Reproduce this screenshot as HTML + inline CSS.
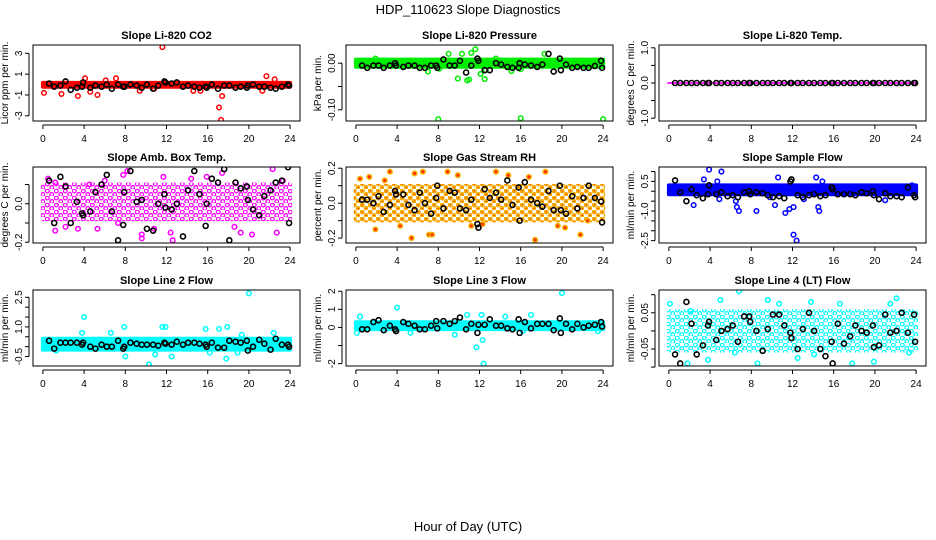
<!DOCTYPE html>
<html><head><meta charset="utf-8"><style>
html,body{margin:0;padding:0;background:#fff;}
svg{display:block;font-family:"Liberation Sans",Arial,sans-serif;}
</style></head><body>
<svg id="c" width="936" height="540" viewBox="0 0 936 540" xmlns="http://www.w3.org/2000/svg">
<defs>
<pattern id="pm" width="9" height="7" patternUnits="userSpaceOnUse"><circle cx="2.3" cy="2" r="1.9" fill="none" stroke="#ff00ff" stroke-width="1.3"/><circle cx="6.8" cy="5.5" r="1.9" fill="none" stroke="#ff00ff" stroke-width="1.3"/></pattern>
<pattern id="po" width="8" height="7" patternUnits="userSpaceOnUse"><circle cx="2.2" cy="2" r="2.1" fill="#f5c000" stroke="#f0a000" stroke-width="0.8"/><circle cx="6.2" cy="5.5" r="2.1" fill="#f5c000" stroke="#f0a000" stroke-width="0.8"/><circle cx="2.2" cy="2" r="0.7" fill="#ff2000"/><circle cx="6.2" cy="5.5" r="0.7" fill="#ff2000"/></pattern>
<pattern id="pc" width="9" height="7" patternUnits="userSpaceOnUse"><circle cx="2.3" cy="2" r="1.9" fill="none" stroke="#00ffff" stroke-width="1.3"/><circle cx="6.8" cy="5.5" r="1.9" fill="none" stroke="#00ffff" stroke-width="1.3"/></pattern>
</defs>
<text x="468" y="14" text-anchor="middle" font-size="13">HDP_110623  Slope Diagnostics</text>
<text x="468" y="531" text-anchor="middle" font-size="13">Hour of Day (UTC)</text>
</svg>
<script>
const blackHours=[0.6,1.1,1.7,2.2,2.7,3.3,3.8,3.9,4.6,5.1,5.7,6.2,6.7,7.3,7.8,7.9,8.5,9.1,9.6,10.1,10.7,11.2,11.8,11.9,12.5,13.0,13.6,14.1,14.7,15.2,15.8,15.9,16.4,17.0,17.6,18.1,18.7,19.2,19.8,19.9,20.4,21.0,21.5,22.1,22.6,23.2,23.8,23.9];
const xTicks=[0,4,8,12,16,20,24];
const titles=["Slope Li-820 CO2","Slope Li-820 Pressure","Slope Li-820 Temp.","Slope Amb. Box Temp.","Slope Gas Stream RH","Slope Sample Flow","Slope Line 2 Flow","Slope Line 3 Flow","Slope Line 4 (LT) Flow"];
const yLabels=["Licor ppm per min.","kPa per min.","degrees C per min.","degrees C per min.","percent per min.","ml/min per min.","ml/min per min.","ml/min per min.","ml/min per min."];
const yRanges=[[-3.5,3.8],[-0.124,0.039],[-1.08,1.08],[-0.204,0.191],[-0.228,0.207],[-2.62,1.23],[-0.98,2.87],[-2.13,2.07],[-0.097,0.113]];
const yTicks=[[-3,-1,1,3],[-0.1,-0.05,0],[-1,-0.5,0,0.5,1],[-0.2,-0.1,0,0.1],[-0.2,-0.1,0,0.1,0.2],[-2.5,-2,-1.5,-1,-0.5,0,0.5,1],[-0.5,0,0.5,1,1.5,2,2.5],[-2,-1,0,1,2],[-0.1,-0.05,0,0.05,0.1]];
const yTickLabels=[["-3","-1","1","3"],["-0.10","","0.00"],["-1.0","","0.0","","1.0"],["-0.2","","0.0",""],["-0.2","","0.0","","0.2"],["-2.5","","","-1.0","","","0.5",""],["-0.5","","","1.0","","","2.5"],["-2","","0","1","2"],["","-0.05","","0.05",""]];
const colors=["#ff0000","#00ee00","#ff00ff","#ff00ff","#f5b400","#0000ff","#00ffff","#00ffff","#00ffff"];
const bandLo=[-0.4,-0.012,-0.025,-0.09,-0.11,-0.25,-0.25,-0.2,-0.06];
const bandHi=[0.35,0.012,0.025,0.11,0.11,0.4,0.5,0.4,0.06];
const bandFill=["#ff0000","#00ee00","#ff00ff","url(#pm)","url(#po)","#0000ff","#00ffff","#00ffff","url(#pc)"];
const outHours=[
[0.1,1.8,3.4,4.1,5.3,7.1,9.4,11.6,17.1,17.4,17.3,21.7,21.3,2.2,4.6,6.1,14.6,15.3,10.8,22.5],
[8,16,24,9.9,10.8,11,11.6,12.5,11.2,10.3,1.9,9,13.6,18.3,7,12.1,12.6,15.1,16,8.1],
[],
[0.5,1.2,1.2,2.2,4.5,6,7.8,8.2,9.6,9.6,11.7,12.4,12.6,15.9,17.4,20.3,22.3,22.7,23.3,19.2,5.3,3.4,14.4,18.6,7.3,10.8],
[0.4,1.3,1.9,2.8,3.3,5.4,5.7,6.5,7.1,7.4,8.9,9.9,11.2,13.6,17.4,18.4,19.6,20.3,21.8,22.5,16.8,14.8,12.3,4.3],
[3.9,5.1,4.7,3.4,2.4,6.5,6.6,6.8,8.5,10.6,10.3,11.3,11.7,12.1,12.4,12.1,14.3,14.5,14.6,14.9,13.1,9.8,4.9,21,23.6],
[4,20,7.9,8,10.3,11.6,11.9,12.5,15.8,17.1,17.9,17.8,19.3,3.8,6.6,10.9,16.2,22.4,1.3,18.9],
[0.4,4,20,11.7,12.4,12.3,12.2,14.5,17,10.8,0.1,9.6,5.3,16.2,23.5],
[6.8,22.1,0.1,9.6,5,8.6,12.5,17.8,19.9,1.8,3.8,14.1,23.3,6.4,16.6,10.7,13.8,2.1,21.5]];
const outVals=[
[-0.8,-0.9,-1.1,0.6,-1.0,0.6,-0.6,3.6,-2.2,-1.1,-3.4,0.8,-0.6,0.3,-0.7,0.4,-0.6,-0.6,-0.4,0.5],
[-0.12,-0.118,-0.12,-0.033,-0.037,-0.035,0.03,-0.034,0.022,0.02,0.01,0.02,0.01,0.02,-0.018,-0.023,-0.015,-0.017,-0.013,-0.012],
[],
[0.13,-0.14,0.11,-0.12,0.1,0.12,0.15,0.17,-0.16,-0.18,0.14,-0.15,-0.19,0.14,0.16,-0.16,0.18,-0.15,0.12,-0.15,-0.13,-0.13,0.13,-0.12,-0.1,-0.13],
[0.14,0.15,-0.15,0.13,0.18,-0.2,0.17,0.18,-0.18,-0.18,0.18,0.16,-0.13,0.18,-0.21,0.18,-0.13,-0.14,-0.18,-0.1,0.15,0.16,-0.12,-0.13],
[1.1,1.0,0.5,0.6,-0.7,-0.5,-0.8,-1.0,-1.0,0.7,-0.7,-1.1,-0.9,-2.2,-2.5,-0.8,0.7,-0.8,-1.0,0.5,-0.4,-0.3,-0.4,-0.45,0.3],
[1.5,2.7,1.0,-0.5,-0.9,1.0,1.0,-0.5,0.9,0.9,1.0,-0.6,0.6,0.7,0.7,-0.4,-0.3,0.7,-0.2,-0.3],
[0.6,1.1,1.9,-1.1,-2.0,-0.7,0.7,0.6,0.7,0.7,-0.3,-0.4,-0.3,-0.2,-0.2],
[0.11,0.09,0.075,0.085,0.085,-0.09,-0.075,-0.09,-0.085,-0.09,-0.08,-0.065,-0.06,-0.06,0.075,0.075,0.08,0.055,0.075]];
const blackVals=[
[0.1,-0.2,-0.1,0.3,-0.5,-0.3,-0.2,0.2,-0.3,-0.1,-0.2,0,-0.4,0,-0.2,-0.2,0,-0.1,-0.3,0,-0.4,-0.1,0.3,0.2,0.1,0.2,-0.2,-0.1,-0.2,-0.3,-0.2,-0.3,0,-0.4,-0.1,-0.1,-0.3,-0.2,-0.3,-0.1,0,-0.2,-0.2,-0.3,-0.4,-0.2,0,-0.1],
[-0.005,-0.01,-0.005,-0.005,-0.01,-0.005,0,-0.005,-0.008,-0.005,-0.005,-0.01,-0.01,-0.005,-0.005,-0.01,0.008,-0.005,-0.005,0.005,-0.02,-0.005,0.01,0.005,-0.015,-0.015,0,-0.003,-0.008,-0.01,-0.01,0,-0.003,-0.005,-0.008,-0.003,0.02,-0.018,0.01,-0.015,-0.003,-0.01,-0.008,-0.01,-0.01,-0.006,0.005,-0.01],
[0,0,0,0,0,0,0,0,0,0,0,0,0,0,0,0,0,0,0,0,0,0,0,0,0,0,0,0,0,0,0,0,0,0,0,0,0,0,0,0,0,0,0,0,0,0,0,0],
[0.12,-0.1,0.14,0.09,-0.1,0.01,-0.05,-0.06,-0.04,0.06,0.1,0.15,-0.04,-0.19,-0.11,0.06,0.17,0.01,0.02,-0.13,-0.14,0,0.05,-0.02,-0.03,0,-0.17,0.07,0.17,0.05,-0.115,0,0.13,0.11,0.18,-0.19,0.11,0.08,0.09,0.02,-0.03,-0.06,0.04,0.07,0.11,0.12,0.19,-0.1],
[0.02,0.02,0,0.04,-0.05,-0.01,0.07,0.05,0.05,-0.01,-0.04,0.06,0,-0.06,0.03,0.1,-0.03,0.07,0.06,-0.03,-0.04,0.02,-0.12,-0.14,0.08,0.03,0.06,0.02,0.13,-0.01,0.09,-0.1,0.12,0.02,0,-0.02,0.07,-0.04,0.1,-0.04,-0.06,0.04,-0.03,0.03,0.1,0.03,0.01,-0.11],
[0.55,-0.05,-0.5,0.1,-0.2,-0.35,-0.15,0.3,-0.15,-0.05,-0.25,-0.2,-0.3,-0.05,0,-0.15,-0.05,-0.1,-0.2,-0.3,-0.25,-0.35,0.5,0.6,-0.2,-0.3,-0.2,-0.15,-0.25,-0.2,0.2,0.1,-0.15,-0.15,-0.15,-0.2,-0.05,-0.1,0,-0.2,-0.4,-0.1,-0.25,-0.25,-0.3,0.2,-0.2,-0.3],
[0.3,-0.1,0.2,0.2,0.2,0.2,0.1,0.2,0,-0.1,0.1,0,0,0.3,-0.1,0,0.2,0.15,0.1,0.1,0.1,0.05,0.2,0.15,0.1,0.25,0.1,0.2,0.2,0.15,0.1,0,0.2,-0.05,-0.05,0.3,0.25,0.2,0.3,-0.2,0,0.35,0.15,-0.15,0.4,0.1,0.1,0],
[-0.1,-0.1,0.3,0.4,-0.15,0.1,-0.1,-0.2,0.3,0.2,0.1,-0.1,-0.1,0.1,0.35,-0.05,0.35,0.2,0.35,0.55,-0.1,0.2,-0.3,0.15,0.15,0.45,0.1,0.1,-0.05,-0.1,0.45,-0.3,0.3,-0.05,0.2,0.2,0.2,-0.15,0.5,-0.3,0.2,-0.1,0.2,0,0.1,0.15,0.3,0.05],
[-0.065,-0.09,0.08,0.02,-0.065,-0.04,0.015,0.025,-0.025,0,0.005,0.015,-0.03,0.04,0.04,0.025,0,-0.055,0.005,0.045,0.045,0.015,-0.005,-0.02,-0.05,0.005,0.05,0,-0.05,-0.07,-0.03,-0.09,0.02,-0.035,-0.015,0.015,0,-0.005,0.015,-0.045,-0.04,0.045,-0.005,0,0.05,-0.005,0.045,-0.03]];

const NS="http://www.w3.org/2000/svg";
const svg=document.getElementById('c');
function mk(tag,attrs,parent){const e=document.createElementNS(NS,tag);for(const k in attrs)e.setAttribute(k,attrs[k]);(parent||svg).appendChild(e);return e;}
const colLeft=[33,346,659],rowTop=[45,167,290],W=267,H=76;
for(let p=0;p<9;p++){
  const L=colLeft[p%3],T=rowTop[Math.floor(p/3)];
  const g=mk('g',{});
  
  
  const [y0,y1]=yRanges[p];
  const sx=h=>L+(h+0.96)/25.92*W;
  const sy=v=>T+H-(v-y0)/(y1-y0)*H;
  const cp=mk('clipPath',{id:'cl'+p},g);mk('rect',{x:L,y:T,width:W,height:H},cp);
  const pg=mk('g',{'clip-path':'url(#cl'+p+')'},g);
  const band=mk('rect',{x:sx(0)-2,y:sy(bandHi[p]),width:sx(24)-sx(0)+4,height:sy(bandLo[p])-sy(bandHi[p]),fill:bandFill[p],rx:2},pg);
  
  
  outHours[p].forEach((h,i)=>{
    const c=mk('circle',{cx:sx(h),cy:sy(outVals[p][i]),r:2.3,fill:p==4?'#ff3000':'none',stroke:colors[p],'stroke-width':1.5},pg);
    
    
  });
  blackHours.forEach((h,i)=>{
    const c=mk('circle',{cx:sx(h),cy:sy(blackVals[p][i]),r:2.5,fill:'none',stroke:'#000','stroke-width':1.6},pg);
    
    
  });
  mk('rect',{x:L,y:T,width:W,height:H,fill:'none',stroke:'#000','stroke-width':1},g);
  const t=mk('text',{x:L+W/2,y:T-6,'text-anchor':'middle','font-size':11,'font-weight':'bold'},g);t.textContent=titles[p];
  
  
  mk('line',{x1:sx(0),x2:sx(24),y1:T+H+4,y2:T+H+4,stroke:'#000'},g);
  xTicks.forEach(h=>{mk('line',{x1:sx(h),x2:sx(h),y1:T+H+4,y2:T+H+8,stroke:'#000'},g);
    const tx=mk('text',{x:sx(h),y:T+H+21,'text-anchor':'middle','font-size':10},g);tx.textContent=h;
    
    });
  const yt=yTicks[p];
  mk('line',{x1:L-4,x2:L-4,y1:sy(yt[0]),y2:sy(yt[yt.length-1]),stroke:'#000'},g);
  yt.forEach((v,i)=>{mk('line',{x1:L-8,x2:L-4,y1:sy(v),y2:sy(v),stroke:'#000'},g);
    if(yTickLabels[p][i]){const ty=mk('text',{x:L-11,y:sy(v),'text-anchor':'middle','font-size':10,transform:'rotate(-90 '+(L-11)+' '+sy(v)+')'},g);ty.textContent=yTickLabels[p][i];
    
    }});
  const yl=mk('text',{x:L-25,y:T+H/2,'text-anchor':'middle','font-size':10,transform:'rotate(-90 '+(L-25)+' '+(T+H/2)+')'},g);yl.textContent=yLabels[p];
  
  
}
</script>
</body></html>
